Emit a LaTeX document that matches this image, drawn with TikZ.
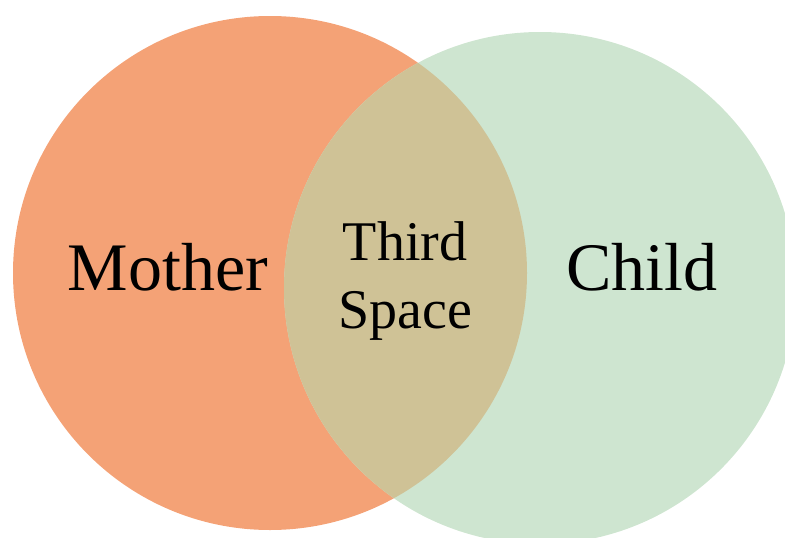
\documentclass[tikz,border=0pt]{standalone}
\usepackage{fontspec}
\setmainfont{Liberation Serif}
\definecolor{momc}{RGB}{244,162,118}
\definecolor{kidc}{RGB}{206,229,208}
\definecolor{midc}{RGB}{207,194,150}
\begin{document}
\begin{tikzpicture}[x=1pt,y=-1pt,
  lbl/.style={anchor=base,inner sep=0pt,text=black}]
\useasboundingbox (0,0) rectangle (785,538);
\begin{scope}
\clip (0,0) rectangle (785,538);
\fill[momc] (270,273) circle[radius=257];
\fill[kidc] (540,288) circle[radius=256];
\begin{scope}
\clip (270,273) circle[radius=257];
\fill[midc] (540,288) circle[radius=256];
\end{scope}
\end{scope}
\node[lbl,font=\fontsize{68}{80}\selectfont] (mother) at (168,290) {Mother};
\node[lbl,font=\fontsize{68}{80}\selectfont] (child) at (642,290) {Child};
\node[lbl,font=\fontsize{56}{68}\selectfont] (third) at (405,260) {Third};
\node[lbl,font=\fontsize{56}{68}\selectfont] (space) at (405,328) {Space};
\end{tikzpicture}
\end{document}
